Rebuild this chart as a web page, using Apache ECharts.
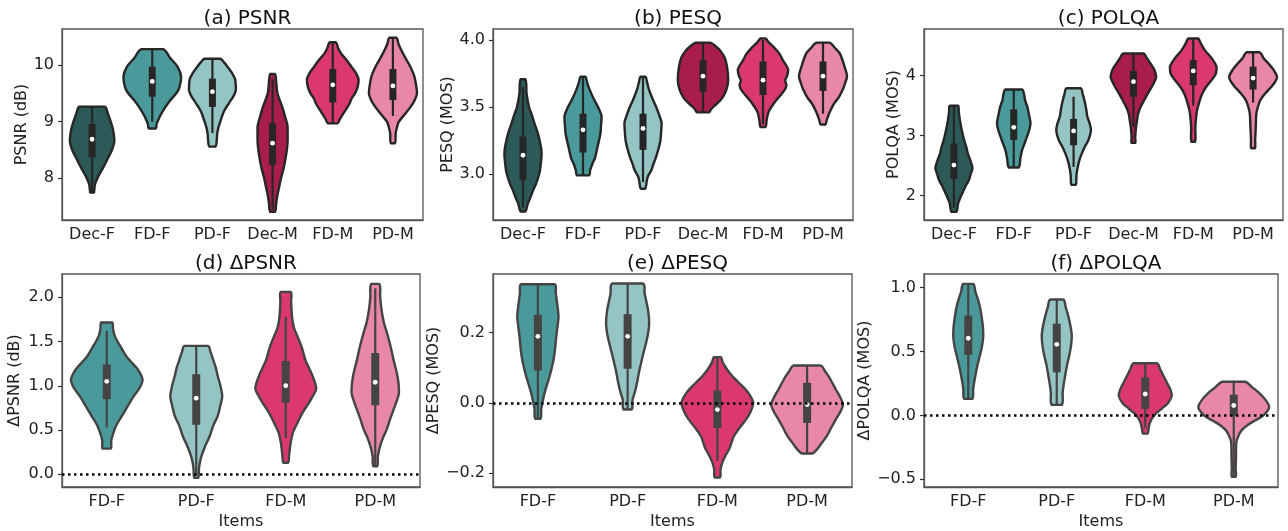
<!DOCTYPE html>
<html>
<head>
<meta charset="utf-8">
<script src="https://cdn.jsdelivr.net/npm/echarts@6/dist/echarts.min.js"></script>
<style>
  html, body { margin: 0; padding: 0; background: #fff; }
  #chart { width: 1288px; height: 531px; }
</style>
</head>
<body>
<div id="chart"></div>
<script>
// categories
const catsTop = ['Dec-F', 'FD-F', 'PD-F', 'Dec-M', 'FD-M', 'PD-M'];
const catsBottom = ['FD-F', 'PD-F', 'FD-M', 'PD-M'];

// tick labels
const psnrTicks = [8, 9, 10];
const pesqTicks = [3.0, 3.5, 4.0];
const polqaTicks = [2, 3, 4];
const dPsnrTicks = [0.0, 0.5, 1.0, 1.5, 2.0];
const dPesqTicks = [-0.2, 0.0, 0.2];
const dPolqaTicks = [-0.5, 0.0, 0.5, 1.0];

// violin outlines: [value, half width in % of the category band], top -> bottom
const psnrProfiles = [
  [[9.265, 21], [9.15, 26], [9.03, 30], [8.85, 35], [8.65, 37], [8.5, 33], [8.35, 26], [8.2, 19], [8.05, 11], [7.9, 5], [7.78, 3.5], [7.75, 3]],
  [[10.28, 18], [10.12, 30], [9.97, 42], [9.79, 48], [9.6, 45], [9.5, 40], [9.38, 30], [9.26, 22], [9.12, 14], [9.03, 10], [8.95, 7], [8.88, 6]],
  [[10.11, 13], [10.05, 19], [9.97, 25], [9.85, 33], [9.74, 38], [9.56, 39], [9.45, 35], [9.32, 27], [9.18, 19], [9.03, 14], [8.9, 10], [8.79, 8], [8.65, 7], [8.56, 5]],
  [[9.84, 4], [9.7, 6], [9.5, 8], [9.26, 16], [9.08, 21], [8.91, 25], [8.65, 25], [8.45, 23], [8.21, 19], [8.0, 14], [7.85, 11], [7.7, 8], [7.56, 6], [7.41, 4]],
  [[10.4, 5], [10.3, 9], [10.2, 14], [10.1, 22], [9.97, 31], [9.85, 39], [9.74, 43], [9.6, 41], [9.5, 37], [9.4, 31], [9.32, 28], [9.15, 18], [9.05, 12], [8.97, 8]],
  [[10.48, 6], [10.38, 9], [10.26, 14], [10.1, 22], [9.97, 29], [9.82, 35], [9.68, 38], [9.5, 40], [9.4, 37], [9.32, 33], [9.2, 25], [9.12, 19], [9.0, 10], [8.91, 7], [8.79, 4.5], [8.62, 3.5]]
];
// [q1, q3, median, whiskerLow, whiskerHigh]
const psnrStats = [
  [8.37, 8.96, 8.69, 7.75, 9.265],
  [9.44, 9.97, 9.71, 9.0, 10.28],
  [9.26, 9.76, 9.53, 8.8, 10.11],
  [8.24, 8.97, 8.62, 7.45, 9.75],
  [9.34, 9.93, 9.65, 8.97, 10.4],
  [9.38, 9.93, 9.63, 9.1, 10.48]
];

const pesqProfiles = [
  [[3.707, 4], [3.6, 6], [3.5, 10], [3.45, 14], [3.38, 19], [3.3, 25], [3.2, 30], [3.15, 31], [3.05, 29], [3.0, 27], [2.93, 22], [2.88, 17], [2.82, 12], [2.78, 8], [2.72, 4]],
  [[3.726, 4], [3.68, 7], [3.63, 11], [3.55, 19], [3.5, 25], [3.43, 31], [3.36, 30], [3.3, 29], [3.18, 23], [3.12, 20], [3.08, 16], [3.03, 12], [2.99, 10]],
  [[3.726, 4], [3.68, 7], [3.63, 10], [3.56, 16], [3.5, 22], [3.44, 27], [3.38, 31], [3.3, 30], [3.25, 29], [3.19, 26], [3.13, 22], [3.07, 17], [3.03, 14], [2.98, 8], [2.94, 6], [2.89, 3.5]],
  [[3.98, 12], [3.95, 22], [3.925, 28], [3.87, 36], [3.8, 40], [3.7, 42], [3.63, 39], [3.58, 34], [3.55, 29], [3.52, 22], [3.5, 17], [3.48, 13], [3.46, 10]],
  [[4.012, 4], [3.98, 10], [3.95, 17], [3.9, 27], [3.85, 33], [3.78, 42], [3.73, 40], [3.7, 37], [3.66, 39], [3.62, 35], [3.55, 22], [3.5, 14], [3.46, 9], [3.4, 6], [3.35, 4]],
  [[3.98, 11], [3.94, 20], [3.9, 28], [3.8, 36], [3.73, 40], [3.68, 37], [3.63, 33], [3.57, 26], [3.53, 19], [3.48, 13], [3.45, 10], [3.4, 6], [3.37, 4]]
];
const pesqStats = [
  [2.955, 3.28, 3.14, 2.75, 3.65],
  [3.16, 3.45, 3.33, 2.99, 3.72],
  [3.18, 3.45, 3.34, 2.94, 3.72],
  [3.615, 3.85, 3.73, 3.46, 3.98],
  [3.59, 3.84, 3.70, 3.37, 4.0],
  [3.62, 3.84, 3.73, 3.45, 3.98]
];

const polqaProfiles = [
  [[3.5, 7], [3.4, 8], [3.26, 10], [3.1, 13], [2.93, 17], [2.8, 21], [2.71, 23], [2.6, 27], [2.46, 31], [2.36, 28], [2.26, 25], [2.15, 19], [2.04, 14], [1.95, 10], [1.87, 7], [1.73, 4]],
  [[3.77, 14], [3.7, 17], [3.59, 19], [3.47, 23], [3.37, 25], [3.21, 28], [3.1, 26], [2.98, 22], [2.87, 18], [2.76, 14], [2.62, 11], [2.47, 8]],
  [[3.79, 12], [3.7, 15], [3.59, 18], [3.45, 21], [3.32, 23], [3.2, 27], [3.09, 29], [2.93, 25], [2.82, 19], [2.71, 14], [2.6, 10], [2.48, 7], [2.36, 5], [2.26, 4.5], [2.18, 3.5]],
  [[4.37, 17], [4.3, 22], [4.21, 28], [4.1, 35], [3.98, 38], [3.9, 35], [3.82, 31], [3.7, 24], [3.59, 18], [3.48, 12], [3.37, 8], [3.25, 6], [3.15, 4.5], [2.98, 3], [2.88, 3]],
  [[4.62, 8], [4.55, 12], [4.43, 19], [4.3, 30], [4.15, 39], [4.04, 38], [3.93, 31], [3.82, 22], [3.7, 15], [3.59, 11], [3.45, 7], [3.37, 5.5], [3.15, 3.5], [2.9, 3]],
  [[4.39, 11], [4.3, 17], [4.21, 25], [4.1, 34], [3.98, 40], [3.9, 37], [3.82, 31], [3.7, 20], [3.59, 12], [3.48, 8], [3.37, 5.5], [3.15, 4.5], [2.93, 3.5], [2.79, 3]]
];
const polqaStats = [
  [2.28, 2.87, 2.51, 1.8, 3.5],
  [2.93, 3.44, 3.14, 2.47, 3.77],
  [2.84, 3.28, 3.08, 2.48, 3.65],
  [3.65, 4.08, 3.90, 3.15, 4.37],
  [3.84, 4.26, 4.08, 3.5, 4.6],
  [3.77, 4.15, 3.96, 3.55, 4.39]
];

const dPsnrProfiles = [
  [[1.715, 6], [1.65, 7], [1.56, 9], [1.45, 15], [1.33, 22], [1.25, 29], [1.18, 35], [1.07, 40], [0.98, 37], [0.88, 30], [0.78, 24], [0.66, 17], [0.56, 11], [0.47, 7.5], [0.38, 5], [0.29, 4.5]],
  [[1.45, 13], [1.38, 16], [1.29, 19], [1.2, 22], [1.11, 24], [1.0, 27], [0.88, 29], [0.78, 27], [0.66, 24], [0.55, 19], [0.43, 15], [0.32, 10], [0.21, 6], [0.13, 4], [0.06, 3], [-0.04, 2.2]],
  [[2.06, 5.5], [1.95, 6], [1.78, 7], [1.66, 9], [1.56, 13], [1.43, 18], [1.29, 22], [1.2, 26], [1.11, 30], [0.97, 34], [0.88, 30], [0.81, 26], [0.7, 19], [0.58, 13], [0.47, 8], [0.36, 5.5], [0.21, 3.7], [0.13, 2.6]],
  [[2.15, 4.5], [2.0, 5.5], [1.86, 7], [1.72, 9.5], [1.6, 13], [1.45, 17], [1.29, 20.5], [1.15, 24], [1.03, 26], [0.92, 26.5], [0.83, 24], [0.73, 20.5], [0.62, 16.5], [0.51, 13], [0.42, 9], [0.32, 5.5], [0.21, 3], [0.09, 2.2]]
];
const dPsnrStats = [
  [0.85, 1.24, 1.05, 0.53, 1.62],
  [0.56, 1.13, 0.86, -0.02, 1.45],
  [0.81, 1.28, 1.0, 0.41, 1.78],
  [0.78, 1.37, 1.04, 0.09, 2.1]
];

const dPesqProfiles = [
  [[0.337, 18.5], [0.31, 20], [0.292, 21], [0.245, 23], [0.22, 22], [0.189, 20.5], [0.15, 19], [0.123, 17.5], [0.1, 15.5], [0.075, 13], [0.05, 10], [0.028, 7.5], [0.0, 5], [-0.019, 3.7], [-0.045, 3]],
  [[0.339, 17], [0.31, 19], [0.292, 20.5], [0.26, 23], [0.226, 24], [0.2, 23], [0.17, 20.5], [0.14, 17.5], [0.113, 15], [0.085, 12.5], [0.057, 10.5], [0.03, 8], [0.009, 5.5], [-0.019, 4.5]],
  [[0.13, 3.7], [0.115, 6], [0.094, 11], [0.075, 17], [0.057, 24], [0.03, 34], [0.0, 40], [-0.025, 37], [-0.047, 32], [-0.07, 25], [-0.094, 18.5], [-0.115, 15.5], [-0.132, 13], [-0.15, 9], [-0.17, 5.5], [-0.19, 3.5], [-0.212, 3]],
  [[0.106, 15], [0.09, 20], [0.075, 24], [0.057, 28], [0.038, 32], [0.015, 37], [-0.005, 40], [-0.025, 37], [-0.047, 32], [-0.07, 27], [-0.094, 22], [-0.115, 16], [-0.132, 11], [-0.144, 5.6]]
];
const dPesqStats = [
  [0.092, 0.25, 0.189, -0.045, 0.337],
  [0.097, 0.252, 0.189, -0.019, 0.339],
  [-0.071, 0.035, -0.019, -0.165, 0.13],
  [-0.057, 0.057, -0.005, -0.144, 0.106]
];

const dPolqaProfiles = [
  [[1.03, 5.6], [0.97, 8], [0.907, 11], [0.84, 13.5], [0.777, 15], [0.7, 16.5], [0.622, 17], [0.54, 15.5], [0.466, 13], [0.38, 10], [0.311, 8], [0.25, 6.5], [0.207, 5.6], [0.13, 4.5]],
  [[0.907, 7.5], [0.85, 10], [0.777, 13], [0.7, 15.5], [0.622, 17], [0.54, 16], [0.466, 14], [0.39, 11.5], [0.311, 9.5], [0.25, 8], [0.181, 6.7], [0.083, 5.6]],
  [[0.409, 13], [0.36, 17], [0.311, 20.5], [0.25, 25], [0.2, 28.5], [0.155, 30], [0.1, 26], [0.052, 18.5], [0.0, 10], [-0.052, 5.6], [-0.104, 3.7], [-0.142, 2.6]],
  [[0.264, 13], [0.22, 21], [0.181, 28], [0.13, 35], [0.065, 40], [0.0, 33.5], [-0.04, 24], [-0.078, 15], [-0.115, 9], [-0.155, 5.6], [-0.207, 3], [-0.311, 2.6], [-0.415, 2.2], [-0.48, 2.2]]
];
const dPolqaStats = [
  [0.474, 0.782, 0.604, 0.13, 1.03],
  [0.337, 0.718, 0.557, 0.083, 0.907],
  [0.052, 0.298, 0.168, -0.1, 0.409],
  [-0.005, 0.163, 0.078, -0.48, 0.264]
];

const colorsTop = ['#2b5a59', '#4b9a9b', '#94c4c4', '#a81d4d', '#da386e', '#e887a8'];
const colorsBottom = ['#4b9a9b', '#94c4c4', '#da386e', '#e887a8'];

const FONT = 'DejaVu Sans';

const panels = [
  { title: '(a) PSNR', yName: 'PSNR (dB)', cats: catsTop, ticks: psnrTicks, prof: psnrProfiles, stats: psnrStats, colors: colorsTop,
    grid: { left: 62, top: 29, width: 361, height: 191 }, min: 7.265, max: 10.635, nameGap: 32, dec: 0 },
  { title: '(b) PESQ', yName: 'PESQ (MOS)', cats: catsTop, ticks: pesqTicks, prof: pesqProfiles, stats: pesqStats, colors: colorsTop,
    grid: { left: 493, top: 29, width: 360, height: 191 }, min: 2.657, max: 4.082, nameGap: 36, dec: 1 },
  { title: '(c) POLQA', yName: 'POLQA (MOS)', cats: catsTop, ticks: polqaTicks, prof: polqaProfiles, stats: polqaStats, colors: colorsTop,
    grid: { left: 924, top: 29, width: 359, height: 191 }, min: 1.595, max: 4.778, nameGap: 21, dec: 0 },
  { title: '(d) ΔPSNR', yName: 'ΔPSNR (dB)', cats: catsBottom, ticks: dPsnrTicks, prof: dPsnrProfiles, stats: dPsnrStats, colors: colorsBottom,
    grid: { left: 62, top: 274, width: 358, height: 214 }, min: -0.143, max: 2.262, nameGap: 39, dec: 1, zero: true },
  { title: '(e) ΔPESQ', yName: 'ΔPESQ (MOS)', cats: catsBottom, ticks: dPesqTicks, prof: dPesqProfiles, stats: dPesqStats, colors: colorsBottom,
    grid: { left: 493, top: 274, width: 359, height: 214 }, min: -0.239, max: 0.366, nameGap: 48, dec: 1, zero: true },
  { title: '(f) ΔPOLQA', yName: 'ΔPOLQA (MOS)', cats: catsBottom, ticks: dPolqaTicks, prof: dPolqaProfiles, stats: dPolqaStats, colors: colorsBottom,
    grid: { left: 924, top: 274, width: 354, height: 214 }, min: -0.56, max: 1.107, nameGap: 50, dec: 1, zero: true }
];

function violinRenderer(p, dark, boxW) {
  return function (params, api) {
    const i = api.value(0);
    const band = api.size([1, 0])[0];
    const prof = p.prof[i];
    const right = prof.map(([v, w]) => {
      const c = api.coord([i, v]);
      return [c[0] + w / 100 * band, c[1]];
    });
    const left = prof.slice().reverse().map(([v, w]) => {
      const c = api.coord([i, v]);
      return [c[0] - w / 100 * band, c[1]];
    });
    const pts = right.concat(left);
    const xs = pts.map(q => q[0]);
    const ys = pts.map(q => q[1]);
    // keeps the smoothed outline inside the points' box (flat ends stay flat)
    const bbox = [[Math.min(...xs), Math.min(...ys)], [Math.max(...xs), Math.max(...ys)]];
    const [q1, q3, med, lo, hi] = p.stats[i];
    const cLo = api.coord([i, lo]);
    const cHi = api.coord([i, hi]);
    const c1 = api.coord([i, q1]);
    const c3 = api.coord([i, q3]);
    const cm = api.coord([i, med]);
    return {
      type: 'group',
      children: [
        {
          type: 'polygon',
          shape: { points: pts, smooth: 0.35, smoothConstraint: bbox },
          style: { fill: p.colors[i], stroke: dark, lineWidth: 2.4, lineJoin: 'round' }
        },
        {
          type: 'line',
          shape: { x1: cLo[0], y1: cLo[1], x2: cHi[0], y2: cHi[1] },
          style: { stroke: dark, lineWidth: 2.2 }
        },
        {
          type: 'rect',
          shape: { x: c3[0] - boxW / 2, y: c3[1], width: boxW, height: c1[1] - c3[1] },
          style: { fill: dark }
        },
        {
          type: 'circle',
          shape: { cx: cm[0], cy: cm[1], r: 2.4 },
          style: { fill: '#ffffff' }
        }
      ]
    };
  };
}

function fmt(dec) {
  return v => (dec ? v.toFixed(dec) : String(Math.round(v))).replace('-', '\u2212');
}

const option = {
  animation: false,
  textStyle: { fontFamily: FONT },
  title: panels.map(p => ({
    text: p.title,
    left: p.grid.left + p.grid.width / 2,
    top: p.grid.top - 25,
    textAlign: 'center',
    textStyle: { fontFamily: FONT, fontSize: 20, fontWeight: 'normal', color: '#111' }
  })),
  grid: panels.map(p => ({
    left: p.grid.left, top: p.grid.top, width: p.grid.width, height: p.grid.height,
    show: true, borderColor: '#555', borderWidth: 1.3, backgroundColor: 'transparent'
  })),
  xAxis: panels.map((p, k) => ({
    type: 'category',
    gridIndex: k,
    data: p.cats,
    boundaryGap: true,
    name: k >= 3 ? 'Items' : '',
    nameLocation: 'middle',
    nameGap: 27,
    nameTextStyle: { fontFamily: FONT, fontSize: 16, color: '#222' },
    axisLine: { onZero: false, lineStyle: { color: '#555', width: 1.3 } },
    axisTick: { alignWithLabel: true, length: 4, lineStyle: { color: '#333', width: 1.2 } },
    axisLabel: { fontFamily: FONT, fontSize: 16, color: '#222', margin: 7, interval: 0 },
    splitLine: { show: false }
  })),
  yAxis: panels.map((p, k) => ({
    type: 'value',
    gridIndex: k,
    min: p.min,
    max: p.max,
    name: p.yName,
    nameLocation: 'middle',
    nameGap: p.nameGap,
    nameRotate: 90,
    nameTextStyle: { fontFamily: FONT, fontSize: 16, color: '#222' },
    axisLine: { show: true, onZero: false, lineStyle: { color: '#555', width: 1.3 } },
    axisTick: { show: true, length: 4, customValues: p.ticks, lineStyle: { color: '#333', width: 1.2 } },
    axisLabel: { fontFamily: FONT, fontSize: 16, color: '#222', margin: 8, customValues: p.ticks, formatter: fmt(p.dec) },
    splitLine: { show: false }
  })),
  series: []
};

panels.forEach((p, k) => {
  const dark = k < 3 ? '#262626' : '#444444';
  const boxW = k < 3 ? 7 : 8;
  option.series.push({
    type: 'custom',
    xAxisIndex: k,
    yAxisIndex: k,
    renderItem: violinRenderer(p, dark, boxW),
    encode: { x: 0, y: 1 },
    data: p.cats.map((c, i) => [i, p.stats[i][2]]),
    z: 2
  });
  if (p.zero) {
    option.series.push({
      type: 'line',
      xAxisIndex: k,
      yAxisIndex: k,
      data: [],
      z: 5,
      markLine: {
        silent: true,
        symbol: 'none',
        label: { show: false },
        lineStyle: { color: '#000', width: 2.5, type: [2.5, 3.5] },
        data: [{ yAxis: 0 }]
      }
    });
  }
});

const chart = echarts.init(document.getElementById('chart'));
chart.setOption(option);
</script>
</body>
</html>
